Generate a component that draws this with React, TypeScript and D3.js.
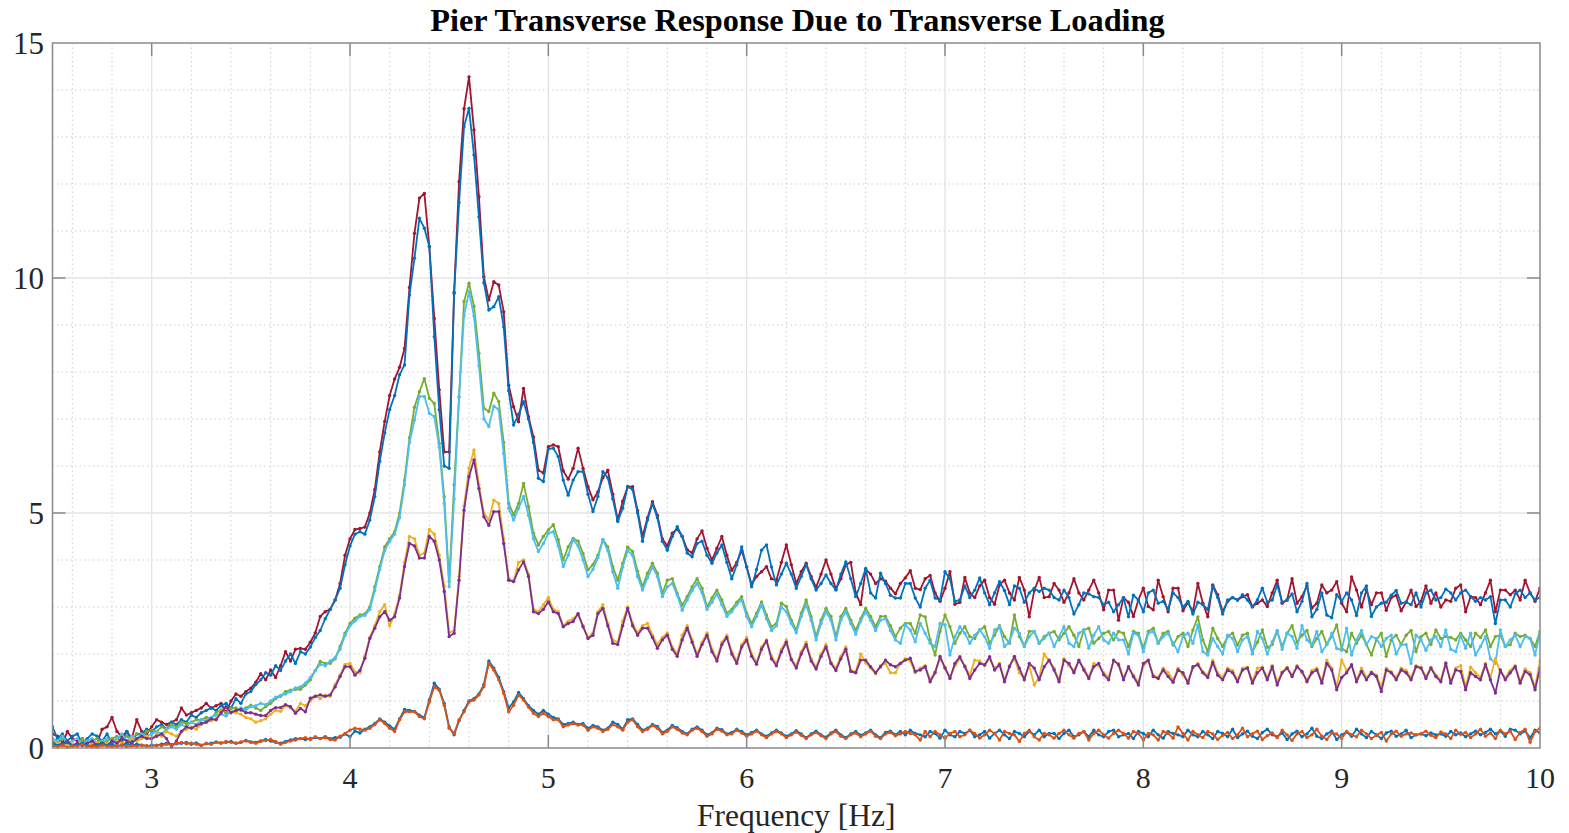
import React from "react";
import * as d3 from "d3";

const TITLE = "Pier Transverse Response Due to Transverse Loading";
const X_LABEL = "Frequency [Hz]";
const X_START = 2.5;
const X_STEP = 0.025;
const X_TICKS = [3, 4, 5, 6, 7, 8, 9, 10];
const Y_TICKS = [0, 5, 10, 15];

const RED = [
  0.3,0.25,0.1,0.35,0.2,0.15,0.2,0.05,0.05,0.1,0.4,0.45,0.65,0.35,0.25,0.35,0.2,0.6,0.35,0.3,
  0.45,0.6,0.55,0.5,0.55,0.6,0.85,0.7,0.75,0.8,0.85,0.95,0.85,0.9,0.95,0.75,1.0,1.15,1.1,1.2,
  1.27,1.4,1.58,1.45,1.66,1.5,1.75,2.05,1.85,2.1,2.12,2.1,2.25,2.45,2.8,2.9,2.95,3.15,3.5,4.1,
  4.45,4.65,4.67,4.7,5.0,5.5,6.3,6.95,7.5,7.85,8.1,8.5,9.8,10.95,11.7,11.8,10.67,9.14,7.62,6.3,
  6.3,9.7,12.05,13.6,14.28,13.15,11.73,10.03,9.53,9.92,9.85,9.28,7.72,7.26,6.94,7.65,7.05,6.62,5.91,5.85,
  6.41,6.45,6.41,5.9,5.72,5.95,6.38,5.95,5.56,5.28,5.45,5.75,5.91,5.4,4.85,5.25,5.56,5.56,5.05,4.5,
  4.9,5.24,4.95,4.45,4.3,4.57,4.66,4.5,4.22,4.15,4.45,4.62,4.25,4.0,4.25,4.5,4.1,3.78,3.95,4.2,
  3.85,3.48,3.65,3.75,3.86,3.6,3.57,3.95,4.32,3.9,3.5,3.75,3.93,3.65,3.42,3.7,4.0,3.7,3.38,3.6,
  3.9,3.95,3.3,3.05,3.8,3.7,3.5,3.6,3.55,3.4,3.28,3.5,3.62,3.77,3.4,3.37,3.6,3.67,3.3,3.12,
  3.4,3.75,3.06,3.1,3.63,3.3,3.2,3.45,3.57,3.2,3.06,3.47,3.57,3.3,3.15,3.63,3.36,2.79,3.35,3.63,
  3.2,3.22,3.5,3.36,3.1,3.3,3.6,3.3,3.15,3.36,3.57,3.3,2.94,3.36,3.36,2.72,3.2,3.1,2.8,3.15,
  3.4,3.01,2.94,3.57,3.22,2.9,3.4,3.4,2.92,3.1,2.9,3.5,3.08,2.79,3.47,3.26,2.9,3.12,3.2,3.15,
  3.22,3.26,3.01,3.08,3.15,3.01,3.3,3.57,3.08,3.15,3.6,3.08,3.22,3.45,2.98,3.08,3.47,3.3,3.36,3.54,
  3.08,2.9,3.64,3.36,3.0,3.36,3.05,3.3,3.3,2.93,3.2,3.25,2.92,3.1,3.36,3.01,3.12,3.45,3.08,3.3,
  3.0,3.15,3.12,3.4,3.47,2.9,3.22,3.2,3.05,3.3,3.57,2.9,3.36,3.36,3.26,3.36,3.15,3.57,3.3,3.12,3.4,
];

const BLUE_TOP = [
  0.45,0.2,0.3,0.15,0.25,0.3,0.1,0.2,0.3,0.25,0.15,0.3,0.1,0.2,0.15,0.35,0.15,0.3,0.3,0.4,
  0.35,0.45,0.5,0.4,0.55,0.5,0.6,0.55,0.7,0.65,0.75,0.8,0.85,0.8,0.9,0.95,0.85,1.05,0.95,1.15,
  1.2,1.35,1.45,1.6,1.55,1.75,1.65,1.85,2.0,1.8,2.05,2.0,2.15,2.35,2.5,2.75,2.95,3.15,3.4,3.9,
  4.3,4.55,4.6,4.55,4.85,5.35,6.1,6.7,7.2,7.5,7.94,8.15,9.64,10.42,11.27,11.06,10.67,8.75,7.2,6.0,
  5.95,9.67,11.6,13.22,13.61,12.62,11.3,9.9,9.32,9.39,9.6,8.96,7.6,6.87,7.1,7.37,7.0,6.5,5.74,5.67,
  6.36,6.38,6.2,5.7,5.38,5.7,5.88,5.88,5.4,5.03,5.35,5.88,5.75,5.3,4.82,5.1,5.56,5.5,5.0,4.4,
  4.85,5.2,4.9,4.4,4.21,4.5,4.71,4.5,4.15,4.07,4.35,4.4,4.1,3.93,4.15,4.32,3.95,3.6,3.9,4.28,
  3.85,3.43,3.8,4.21,4.32,3.85,3.47,3.7,3.93,3.7,3.4,3.65,3.9,3.6,3.36,3.5,3.68,3.5,3.36,3.7,
  3.96,3.6,3.22,3.5,3.82,3.3,3.19,3.72,3.5,3.25,3.19,3.19,3.5,3.5,3.19,3.0,3.4,3.57,3.19,3.15,
  3.75,3.6,3.12,3.15,3.45,3.2,3.36,3.62,3.3,3.05,3.3,3.54,3.35,3.05,3.45,3.4,3.1,3.3,3.4,3.33,
  3.4,3.36,3.2,3.15,3.36,3.2,2.85,3.05,3.3,3.28,3.22,3.2,3.05,3.1,2.9,3.05,3.2,2.79,3.25,3.15,
  2.9,3.3,3.36,3.08,3.12,2.95,3.3,3.2,3.0,3.12,2.85,3.1,3.05,2.95,3.45,3.2,2.85,3.15,3.2,3.15,
  3.26,3.15,3.0,3.15,3.4,3.1,3.15,3.47,3.1,3.15,3.28,2.9,3.12,3.5,2.79,2.95,3.3,2.83,2.77,3.26,
  3.12,3.3,3.15,2.82,3.3,3.45,2.8,3.0,3.08,3.1,3.25,3.35,3.08,3.1,3.05,3.3,3.0,3.3,3.36,3.15,
  3.2,3.38,3.3,3.15,3.3,3.36,3.22,3.12,3.2,3.15,3.22,2.65,3.15,3.15,3.0,3.28,3.36,3.2,3.3,3.15,3.2,
];

const GREEN = [
  0.15,0.1,0.2,0.15,0.05,0.1,0.2,0.1,0.15,0.2,0.1,0.15,0.2,0.25,0.2,0.25,0.2,0.3,0.25,0.35,
  0.38,0.35,0.45,0.4,0.5,0.45,0.55,0.52,0.55,0.6,0.6,0.65,0.63,0.75,0.81,0.75,0.85,0.85,0.8,0.85,
  0.91,0.85,0.8,0.88,0.95,1.05,1.1,1.2,1.23,1.25,1.25,1.34,1.45,1.65,1.84,1.8,1.8,1.9,2.16,2.44,
  2.65,2.76,2.83,2.85,3.0,3.43,3.86,4.28,4.45,4.6,5.0,5.7,6.6,7.25,7.58,7.86,7.44,7.33,6.48,5.35,
  3.54,5.6,7.47,9.5,9.89,9.4,8.4,7.23,7.16,7.55,7.37,6.5,5.21,4.96,5.2,5.63,5.14,4.57,4.32,4.5,
  4.64,4.75,4.43,4.0,4.28,4.46,4.4,4.14,3.79,3.9,4.1,4.43,4.28,3.86,3.57,3.93,4.28,4.18,3.76,3.43,
  3.72,3.93,3.72,3.29,3.57,3.6,3.29,3.04,3.22,3.43,3.6,3.4,3.0,3.19,3.36,3.15,2.87,2.95,3.1,3.22,
  2.87,2.65,2.87,3.11,2.83,2.58,2.65,3.08,3.01,2.72,2.51,2.87,3.15,2.8,2.37,2.72,2.97,2.8,2.37,2.8,
  2.97,2.72,2.51,2.75,2.97,2.8,2.58,2.8,2.8,2.6,2.37,2.55,2.65,2.65,2.44,2.83,2.79,2.3,1.98,2.48,
  2.83,2.58,2.23,2.44,2.58,2.37,2.33,2.51,2.58,2.23,2.4,2.6,2.37,2.23,2.83,2.37,2.16,2.48,2.48,2.23,
  2.37,2.44,2.48,2.3,2.44,2.58,2.4,2.16,2.51,2.55,2.23,2.33,2.44,2.48,2.3,2.48,2.44,2.16,2.48,2.44,
  2.12,2.48,2.55,2.23,2.44,2.48,2.19,2.37,2.44,2.16,2.51,2.79,2.3,2.05,2.55,2.33,2.16,2.37,2.44,2.19,
  2.4,2.44,2.05,2.25,2.51,2.14,2.2,2.48,2.16,2.44,2.6,2.25,2.4,2.5,2.16,2.33,2.48,2.2,2.37,2.62,
  2.12,2.05,2.44,2.23,2.4,2.2,1.98,2.3,2.44,1.95,2.3,2.4,2.2,2.4,2.5,2.05,2.37,2.44,2.2,2.51,
  2.33,2.37,2.35,2.3,2.44,2.3,2.16,2.44,2.35,2.51,2.16,2.37,2.4,2.16,2.2,2.44,2.37,2.4,2.33,2.16,2.48,
];

const CYAN = [
  0.2,0.15,0.25,0.1,0.15,0.2,0.1,0.15,0.2,0.1,0.15,0.2,0.15,0.2,0.3,0.15,0.25,0.2,0.3,0.25,
  0.3,0.35,0.3,0.4,0.45,0.4,0.5,0.45,0.55,0.5,0.6,0.58,0.65,0.7,0.72,0.68,0.8,0.78,0.85,0.82,
  0.88,0.9,0.95,0.92,1.0,1.08,1.12,1.15,1.2,1.28,1.3,1.38,1.5,1.65,1.78,1.75,1.85,1.92,2.1,2.4,
  2.6,2.7,2.8,2.82,2.95,3.35,3.8,4.2,4.4,4.55,4.9,5.6,6.5,6.98,7.48,7.48,7.12,7.05,6.4,5.2,
  3.43,5.3,7.47,9.2,9.71,9.19,8.13,7.0,6.84,7.27,7.2,6.27,5.1,4.85,5.1,5.35,4.95,4.45,4.18,4.35,
  4.57,4.6,4.3,3.86,4.1,4.43,4.3,4.0,3.65,3.8,4.05,4.43,4.2,3.75,3.4,3.85,4.2,4.1,3.65,3.36,
  3.62,3.85,3.65,3.22,3.43,3.5,3.25,2.93,3.15,3.35,3.5,3.3,2.95,3.1,3.28,3.05,2.8,2.9,3.05,3.15,
  2.8,2.58,2.8,3.05,2.75,2.5,2.6,3.0,2.9,2.65,2.45,2.8,3.05,2.72,2.3,2.65,2.9,2.72,2.3,2.72,
  2.9,2.65,2.42,2.7,2.9,2.72,2.5,2.72,2.75,2.5,2.3,2.23,2.62,2.51,2.26,2.65,2.44,2.23,2.16,2.65,
  2.62,1.98,2.37,2.58,2.44,2.23,2.4,2.51,2.37,2.12,2.51,2.58,2.16,2.26,2.55,2.44,2.16,2.37,2.48,2.23,
  2.33,2.44,2.16,2.37,2.58,2.23,2.16,2.44,2.51,2.12,2.4,2.58,2.3,2.23,2.44,2.3,2.3,2.0,2.44,2.4,
  2.05,2.44,2.48,2.23,2.37,2.44,2.23,2.05,2.37,2.44,2.23,2.62,2.05,1.98,2.33,2.16,2.0,2.4,2.33,2.05,
  2.3,2.37,2.0,2.48,2.33,2.0,2.26,2.5,2.1,2.44,2.37,2.12,2.6,2.3,2.19,2.48,2.05,2.2,2.44,2.12,
  2.08,2.55,1.98,2.3,2.5,2.2,2.37,2.33,2.16,2.33,2.4,2.0,2.2,2.2,1.8,2.4,2.3,2.08,2.3,2.37,
  2.16,2.51,2.1,2.05,2.4,2.12,2.44,1.98,2.16,2.37,1.9,1.8,2.51,2.16,2.3,2.4,2.16,2.37,2.33,1.98,2.44,
];

const YELLOW = [
  0.05,0.1,0.05,0.1,0.08,0.05,0.1,0.05,0.1,0.12,0.05,0.1,0.08,0.15,0.1,0.12,0.2,0.15,0.2,0.25,
  0.2,0.3,0.25,0.35,0.3,0.25,0.35,0.4,0.45,0.4,0.5,0.55,0.58,0.62,0.78,0.85,0.78,0.75,0.72,0.65,
  0.62,0.55,0.58,0.62,0.72,0.8,0.78,0.9,0.85,0.78,0.95,0.9,1.0,1.1,1.05,1.12,1.1,1.35,1.55,1.78,
  1.8,1.62,1.6,1.95,2.35,2.6,2.9,3.05,2.6,2.85,3.25,3.95,4.5,4.45,4.1,4.15,4.65,4.55,4.1,3.45,
  2.45,2.5,3.65,5.15,5.95,6.34,5.6,5.0,4.85,5.27,5.2,4.45,3.6,3.55,3.95,4.0,3.7,2.95,2.9,3.05,
  3.2,2.95,2.9,2.6,2.7,2.75,2.85,2.6,2.35,2.45,2.9,3.05,2.65,2.3,2.25,2.7,3.0,2.65,2.45,2.6,
  2.65,2.4,2.2,2.35,2.45,2.15,2.0,2.4,2.6,2.3,2.0,2.25,2.45,2.1,1.9,2.25,2.4,2.05,1.85,2.2,
  2.35,2.0,1.82,2.15,2.3,1.95,1.8,2.1,2.3,1.9,1.75,2.05,2.25,1.9,1.72,2.0,2.2,1.82,1.7,1.95,
  2.15,1.65,1.62,2.0,1.82,1.7,1.58,1.75,1.8,1.6,1.6,1.8,1.9,1.85,1.6,1.7,1.75,1.45,1.62,1.9,
  1.72,1.5,1.75,1.9,1.75,1.55,1.87,1.85,1.75,1.9,1.7,1.8,1.45,1.75,1.9,1.6,1.5,1.75,1.34,1.5,
  2.0,1.85,1.7,1.45,1.9,1.75,1.65,1.85,1.7,1.5,1.8,1.75,1.6,1.5,1.85,1.8,1.5,1.7,1.55,1.4,
  1.75,1.85,1.55,1.5,1.7,1.6,1.45,1.7,1.55,1.42,1.7,1.8,1.62,1.55,1.87,1.6,1.5,1.7,1.65,1.45,
  1.7,1.72,1.42,1.7,1.72,1.5,1.75,1.4,1.62,1.72,1.55,1.75,1.6,1.45,1.65,1.7,1.42,1.87,1.7,1.3,
  1.87,1.65,1.75,1.45,1.7,1.5,1.62,1.55,1.3,1.7,1.62,1.5,1.7,1.65,1.5,1.75,1.72,1.52,1.72,1.55,
  1.45,1.82,1.42,1.7,1.75,1.3,1.72,1.6,1.5,1.8,1.5,1.9,1.62,1.5,1.65,1.75,1.42,1.68,1.6,1.3,1.85,
];

const PURPLE = [
  0.1,0.05,0.1,0.15,0.05,0.1,0.05,0.1,0.15,0.05,0.1,0.05,0.15,0.1,0.2,0.15,0.1,0.2,0.25,0.2,
  0.2,0.25,0.3,0.2,0.02,0.15,0.35,0.45,0.42,0.48,0.52,0.55,0.62,0.6,0.75,0.88,0.75,0.8,0.82,0.75,
  0.75,0.72,0.69,0.69,0.8,0.86,0.86,0.92,0.88,0.74,0.84,0.77,1.06,1.1,1.13,1.1,1.13,1.3,1.52,1.73,
  1.73,1.55,1.65,1.91,2.33,2.55,2.79,2.9,2.72,2.79,3.19,3.86,4.35,4.3,4.04,4.04,4.5,4.4,4.0,3.33,
  2.37,2.44,3.57,5.06,5.77,6.13,5.52,4.92,4.74,5.03,5.03,4.35,3.57,3.54,3.79,3.96,3.65,2.9,2.86,2.95,
  3.11,2.9,2.86,2.58,2.65,2.69,2.86,2.58,2.33,2.4,2.86,2.97,2.6,2.23,2.2,2.6,2.97,2.6,2.4,2.55,
  2.55,2.35,2.12,2.3,2.4,2.1,1.95,2.3,2.55,2.25,1.95,2.2,2.4,2.05,1.85,2.2,2.35,2.0,1.8,2.15,
  2.3,1.95,1.78,2.1,2.28,1.9,1.75,2.05,2.25,1.88,1.7,2.0,2.2,1.85,1.68,1.95,2.15,1.8,1.65,1.9,
  2.1,1.63,1.6,1.87,1.87,1.73,1.6,1.73,1.87,1.77,1.73,1.8,1.87,1.91,1.63,1.66,1.73,1.41,1.6,1.95,
  1.7,1.48,1.8,1.94,1.73,1.48,1.66,1.8,1.77,1.94,1.66,1.77,1.41,1.73,1.95,1.7,1.45,1.8,1.7,1.45,
  1.73,1.87,1.66,1.41,1.87,1.8,1.6,1.87,1.66,1.48,1.73,1.8,1.56,1.45,1.87,1.77,1.45,1.73,1.52,1.34,
  1.8,1.87,1.52,1.48,1.66,1.52,1.4,1.66,1.6,1.38,1.73,1.77,1.6,1.5,1.82,1.55,1.45,1.66,1.6,1.41,
  1.66,1.7,1.38,1.6,1.7,1.45,1.73,1.34,1.6,1.7,1.52,1.73,1.63,1.41,1.6,1.66,1.38,1.8,1.66,1.24,
  1.5,1.6,1.77,1.41,1.63,1.45,1.6,1.52,1.2,1.66,1.6,1.45,1.66,1.6,1.45,1.73,1.7,1.48,1.7,1.52,
  1.41,1.8,1.38,1.66,1.63,1.24,1.6,1.52,1.45,1.77,1.45,1.17,1.66,1.45,1.6,1.73,1.38,1.63,1.56,1.24,1.7,
];

const BLUE_LOW = [
  0.1,0.05,0.08,0.12,0.04,0.06,0.1,0.05,0.03,0.07,0.1,0.05,0.08,0.04,0.06,0.1,0.05,0.08,0.06,0.04,
  0.06,0.05,0.08,0.1,0.07,0.09,0.1,0.12,0.08,0.11,0.06,0.09,0.1,0.13,0.11,0.12,0.14,0.1,0.12,0.16,
  0.13,0.12,0.15,0.18,0.15,0.12,0.1,0.14,0.17,0.2,0.2,0.18,0.2,0.22,0.2,0.24,0.2,0.22,0.23,0.3,
  0.24,0.36,0.32,0.4,0.45,0.52,0.62,0.55,0.47,0.4,0.62,0.82,0.8,0.78,0.7,0.65,1.02,1.38,1.25,0.95,
  0.45,0.28,0.58,0.8,1.0,1.05,1.15,1.35,1.85,1.7,1.5,1.2,0.85,0.98,1.18,1.05,0.9,0.8,0.72,0.8,
  0.72,0.65,0.62,0.5,0.52,0.55,0.5,0.52,0.42,0.48,0.45,0.38,0.42,0.55,0.5,0.4,0.6,0.62,0.5,0.38,
  0.42,0.5,0.46,0.33,0.38,0.48,0.43,0.35,0.3,0.4,0.45,0.38,0.28,0.32,0.42,0.39,0.3,0.33,0.4,0.35,
  0.28,0.33,0.38,0.3,0.25,0.32,0.38,0.32,0.25,0.3,0.37,0.3,0.22,0.3,0.36,0.28,0.23,0.32,0.38,0.28,
  0.22,0.3,0.35,0.27,0.32,0.38,0.28,0.22,0.33,0.36,0.28,0.35,0.28,0.38,0.31,0.28,0.24,0.35,0.31,0.21,
  0.38,0.28,0.24,0.35,0.31,0.38,0.24,0.28,0.35,0.21,0.31,0.38,0.28,0.2,0.35,0.31,0.24,0.35,0.28,0.38,
  0.24,0.31,0.31,0.2,0.31,0.38,0.24,0.28,0.35,0.24,0.38,0.28,0.24,0.35,0.38,0.24,0.28,0.31,0.2,0.35,
  0.31,0.24,0.38,0.28,0.21,0.35,0.31,0.28,0.24,0.38,0.28,0.24,0.35,0.28,0.2,0.35,0.31,0.24,0.4,0.22,
  0.3,0.36,0.25,0.2,0.33,0.4,0.28,0.24,0.32,0.18,0.3,0.36,0.24,0.3,0.42,0.25,0.2,0.3,0.36,0.18,
  0.28,0.34,0.25,0.4,0.3,0.22,0.35,0.28,0.2,0.32,0.36,0.25,0.3,0.38,0.22,0.28,0.3,0.26,0.32,0.28,
  0.3,0.25,0.35,0.28,0.32,0.24,0.3,0.36,0.28,0.33,0.4,0.3,0.36,0.25,0.4,0.38,0.3,0.36,0.22,0.38,0.32,
];

const ORANGE = [
  0.05,0.03,0.06,0.02,0.05,0.04,0.07,0.03,0.05,0.02,0.06,0.04,0.03,0.05,0.06,0.03,0.05,0.04,0.06,0.05,
  0.04,0.06,0.05,0.08,0.06,0.1,0.12,0.09,0.1,0.08,0.05,0.1,0.08,0.12,0.1,0.14,0.12,0.1,0.13,0.15,
  0.12,0.1,0.14,0.16,0.18,0.14,0.08,0.12,0.15,0.17,0.2,0.22,0.18,0.24,0.2,0.22,0.18,0.17,0.25,0.31,
  0.38,0.42,0.4,0.38,0.42,0.5,0.6,0.52,0.42,0.35,0.6,0.77,0.77,0.77,0.67,0.62,0.98,1.31,1.23,0.91,
  0.42,0.31,0.6,0.77,0.98,1.02,1.13,1.31,1.8,1.66,1.45,1.16,0.77,0.91,1.13,1.02,0.87,0.74,0.67,0.74,
  0.67,0.6,0.6,0.45,0.49,0.52,0.49,0.49,0.38,0.45,0.42,0.35,0.4,0.5,0.45,0.38,0.55,0.6,0.45,0.35,
  0.4,0.48,0.42,0.3,0.35,0.45,0.4,0.32,0.28,0.38,0.42,0.35,0.25,0.3,0.4,0.36,0.28,0.3,0.38,0.32,
  0.25,0.3,0.36,0.28,0.22,0.3,0.35,0.3,0.22,0.28,0.34,0.27,0.2,0.28,0.33,0.26,0.2,0.3,0.35,0.25,
  0.2,0.28,0.32,0.24,0.3,0.36,0.25,0.2,0.3,0.33,0.26,0.3,0.35,0.31,0.28,0.17,0.35,0.24,0.35,0.28,
  0.21,0.31,0.35,0.24,0.28,0.38,0.31,0.21,0.28,0.38,0.31,0.17,0.35,0.31,0.28,0.14,0.31,0.38,0.24,0.17,
  0.31,0.28,0.21,0.31,0.38,0.28,0.21,0.31,0.35,0.17,0.31,0.38,0.28,0.21,0.31,0.38,0.31,0.21,0.35,0.31,
  0.17,0.31,0.28,0.17,0.35,0.31,0.21,0.45,0.31,0.17,0.35,0.28,0.22,0.35,0.3,0.18,0.27,0.33,0.2,0.28,
  0.42,0.24,0.3,0.36,0.18,0.26,0.32,0.22,0.38,0.28,0.16,0.3,0.35,0.22,0.28,0.4,0.25,0.18,0.32,0.3,
  0.2,0.35,0.28,0.24,0.38,0.3,0.2,0.27,0.33,0.15,0.3,0.36,0.25,0.3,0.32,0.28,0.3,0.36,0.27,0.22,
  0.34,0.3,0.2,0.38,0.29,0.33,0.22,0.3,0.4,0.25,0.32,0.2,0.38,0.3,0.36,0.18,0.33,0.4,0.12,0.35,0.42,
];

const SERIES = [
  { key: "red", color: "#A2142F", values: RED },
  { key: "blueTop", color: "#0072BD", values: BLUE_TOP },
  { key: "green", color: "#77AC30", values: GREEN },
  { key: "cyan", color: "#4DBEEE", values: CYAN },
  { key: "yellow", color: "#EDB120", values: YELLOW },
  { key: "purple", color: "#7E2F8E", values: PURPLE },
  { key: "blueLow", color: "#0072BD", values: BLUE_LOW },
  { key: "orange", color: "#D95319", values: ORANGE },
];

const W = 1569;
const H = 833;
const L = 52.5, R = 1540, T = 43, B = 748;

export default function App() {
  const x = d3.scaleLinear().domain([2.5, 10]).range([L, R]);
  const y = d3.scaleLinear().domain([0, 15]).range([B, T]);
  const line = d3
    .line<number>()
    .x((_, i) => x(X_START + i * X_STEP))
    .y((d) => y(d));

  const minorX = d3.range(2.6, 10, 0.2).filter((v) => Math.abs(v - Math.round(v)) > 0.05);
  const majorX = X_TICKS.filter((v) => v < 10);
  const minorY = d3.range(1, 15).filter((v) => v % 5 !== 0);
  const majorY = [5, 10];
  const font = "'Liberation Serif', 'Times New Roman', serif";
  const tickCol = "#262626";
  const axisCol = "#8a8a8a";

  return (
    <svg
      width={W}
      height={H}
      style={{ position: "absolute", left: 0, top: 0, background: "#fff" }}
    >
      <defs>
        <clipPath id="plotclip">
          <rect x={L} y={T - 2} width={R - L} height={B - T + 4} />
        </clipPath>
      </defs>
      <rect x={0} y={0} width={W} height={H} fill="#fff" />
      {minorX.map((v) => (
        <line key={"mx" + v} x1={x(v)} x2={x(v)} y1={T} y2={B} stroke="#cdcdcd" strokeWidth={1} strokeDasharray="1.5,3" />
      ))}
      {minorY.map((v) => (
        <line key={"my" + v} x1={L} x2={R} y1={y(v)} y2={y(v)} stroke="#cdcdcd" strokeWidth={1} strokeDasharray="1.5,3" />
      ))}
      {majorX.map((v) => (
        <line key={"gx" + v} x1={x(v)} x2={x(v)} y1={T} y2={B} stroke="#e4e4e4" strokeWidth={1.3} />
      ))}
      {majorY.map((v) => (
        <line key={"gy" + v} x1={L} x2={R} y1={y(v)} y2={y(v)} stroke="#e4e4e4" strokeWidth={1.3} />
      ))}
      <g clipPath="url(#plotclip)">
        {SERIES.map((s) => (
          <g key={s.key}>
            <path d={line(s.values) || ""} fill="none" stroke={s.color} strokeWidth={1.8} strokeLinejoin="round" />
            {s.values.map((v, i) => (
              <circle key={i} cx={x(X_START + i * X_STEP)} cy={y(v)} r={1.7} fill={s.color} />
            ))}
          </g>
        ))}
      </g>
      <rect x={L} y={T} width={R - L} height={B - T} fill="none" stroke={axisCol} strokeWidth={1.5} />
      {X_TICKS.filter((v) => v < 10).map((v) => (
        <g key={"tx" + v}>
          <line x1={x(v)} x2={x(v)} y1={B} y2={B - 13} stroke={axisCol} strokeWidth={1.5} />
          <line x1={x(v)} x2={x(v)} y1={T} y2={T + 13} stroke={axisCol} strokeWidth={1.5} />
        </g>
      ))}
      {Y_TICKS.filter((v) => v > 0 && v < 15).map((v) => (
        <g key={"ty" + v}>
          <line x1={L} x2={L + 13} y1={y(v)} y2={y(v)} stroke={axisCol} strokeWidth={1.5} />
          <line x1={R} x2={R - 13} y1={y(v)} y2={y(v)} stroke={axisCol} strokeWidth={1.5} />
        </g>
      ))}
      {X_TICKS.map((v) => (
        <text key={"lx" + v} x={x(v)} y={788} textAnchor="middle" fontFamily={font} fontSize={30} fill={tickCol}>
          {v}
        </text>
      ))}
      {Y_TICKS.map((v) => (
        <text key={"ly" + v} x={44} y={y(v) + 10.5} textAnchor="end" fontFamily={font} fontSize={31} fill={tickCol}>
          {v}
        </text>
      ))}
      <text x={(L + R) / 2} y={826} textAnchor="middle" fontFamily={font} fontSize={31.5} fill={tickCol}>
        {X_LABEL}
      </text>
      <text x={797.5} y={31} textAnchor="middle" fontFamily={font} fontSize={32.3} fontWeight="bold" fill="#000">
        {TITLE}
      </text>
    </svg>
  );
}
